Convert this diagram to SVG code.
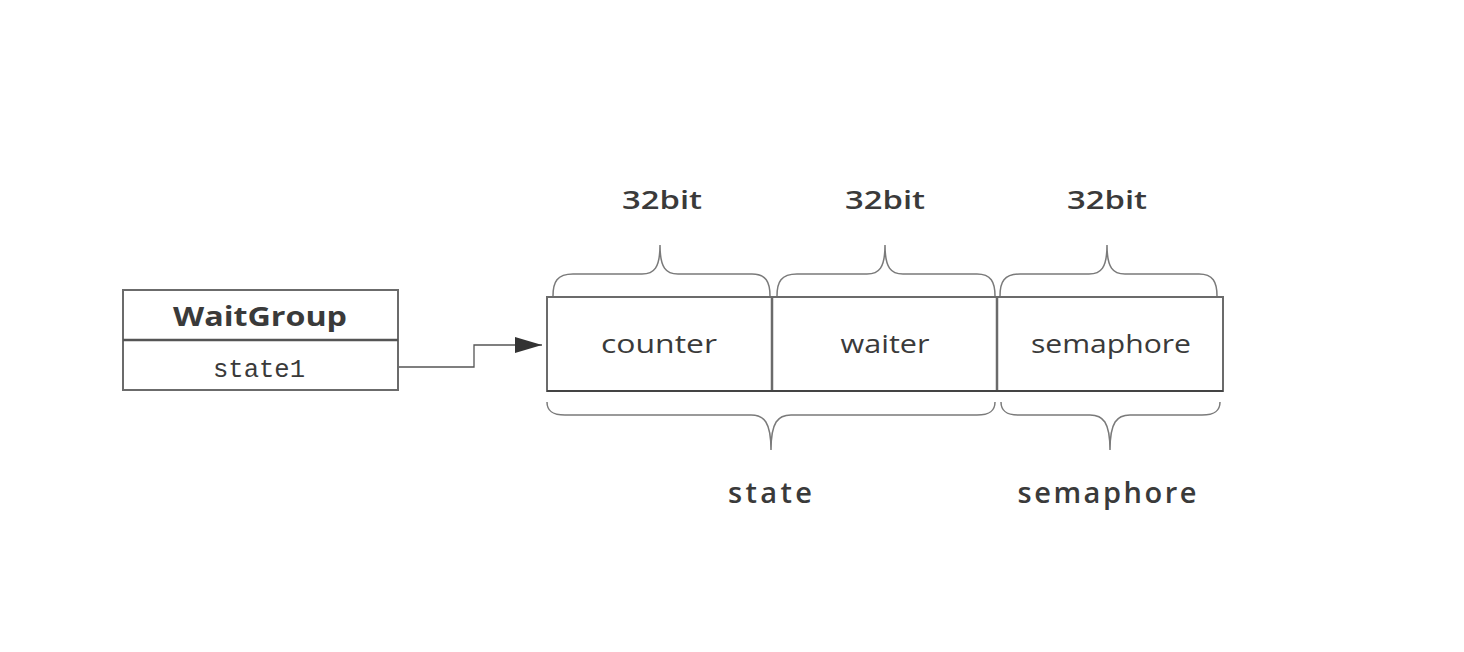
<svg xmlns="http://www.w3.org/2000/svg" width="1464" height="652" viewBox="0 0 1464 652">
<style>
.box{fill:#fff;stroke:#6b6b6b;stroke-width:2}
.brace{fill:none;stroke:#7a7a7a;stroke-width:1.5}
.conn{fill:none;stroke:#555;stroke-width:1.3}
.t{font-family:"Open Sans","Noto Sans",sans-serif;fill:#3a3a3a;text-anchor:middle}
.b{font-weight:bold}
.sb{font-weight:600}
.m{font-family:"Liberation Mono","DejaVu Sans Mono",monospace;fill:#3a3a3a;text-anchor:middle}
</style>
<defs>
<marker id="arr" markerWidth="28" markerHeight="18" refX="27" refY="9" orient="auto" markerUnits="userSpaceOnUse">
<path d="M0,1 L27,9 L0,17 Z" fill="#333"/>
</marker>
</defs>
<rect width="1464" height="652" fill="#fff"/>
<g id="waitgroup">
<rect class="box" x="123" y="290" width="275" height="100"/>
<line x1="123" y1="340" x2="398" y2="340" stroke="#555" stroke-width="2.5"/>
<text class="t b" x="260" y="326" font-size="26" textLength="174" lengthAdjust="spacingAndGlyphs">WaitGroup</text>
<text class="m" x="259" y="377" font-size="25" textLength="92" lengthAdjust="spacingAndGlyphs">state1</text>
</g>
<g id="connectors">
<path class="conn" d="M399,367 L474,367 L474,345 L542,345" marker-end="url(#arr)"/>
</g>
<g id="state-word">
<rect class="box" x="547" y="297" width="676" height="94"/>
<line x1="772" y1="297" x2="772" y2="391" stroke="#6b6b6b" stroke-width="2.5"/>
<line x1="997" y1="297" x2="997" y2="391" stroke="#6b6b6b" stroke-width="2.5"/>
<line x1="547" y1="391" x2="1223" y2="391" stroke="#444" stroke-width="2"/>
<text class="t" x="659" y="353" font-size="26" textLength="116" lengthAdjust="spacingAndGlyphs">counter</text>
<text class="t" x="885" y="353" font-size="26" textLength="89" lengthAdjust="spacingAndGlyphs">waiter</text>
<text class="t" x="1111" y="353" font-size="26" textLength="160" lengthAdjust="spacingAndGlyphs">semaphore</text>
</g>
<g id="top-braces">
<path class="brace" d="M553,296 C553,282 557,274 573,274 L642,274 C654,274 660,268 660,245 C660,268 666,274 678,274 L752,274 C766,274 770,282 770,296"/>
<path class="brace" d="M777,296 C777,282 781,274 797,274 L867,274 C879,274 885,268 885,245 C885,268 891,274 903,274 L977,274 C991,274 995,282 995,296"/>
<path class="brace" d="M1000,296 C1000,282 1004,274 1020,274 L1089,274 C1101,274 1107,268 1107,245 C1107,268 1113,274 1125,274 L1199,274 C1213,274 1217,282 1217,296"/>
<text class="t sb" x="662" y="209" font-size="26" textLength="80" lengthAdjust="spacingAndGlyphs">32bit</text>
<text class="t sb" x="885" y="209" font-size="26" textLength="80" lengthAdjust="spacingAndGlyphs">32bit</text>
<text class="t sb" x="1107" y="209" font-size="26" textLength="80" lengthAdjust="spacingAndGlyphs">32bit</text>
</g>
<g id="bottom-braces">
<path class="brace" d="M547,402 C547,410 551,415 565,415 L751,415 C764,415 771,422 771,450 C771,422 778,415 791,415 L977,415 C991,415 995,410 995,402"/>
<path class="brace" d="M1001,402 C1001,410 1005,415 1019,415 L1090,415 C1103,415 1110,422 1110,450 C1110,422 1117,415 1130,415 L1202,415 C1216,415 1220,410 1220,402"/>
<text class="t sb" x="770" y="503" font-size="29" textLength="84" lengthAdjust="spacing">state</text>
<text class="t sb" x="1107" y="503" font-size="29" textLength="179" lengthAdjust="spacing">semaphore</text>
</g>
</svg>
